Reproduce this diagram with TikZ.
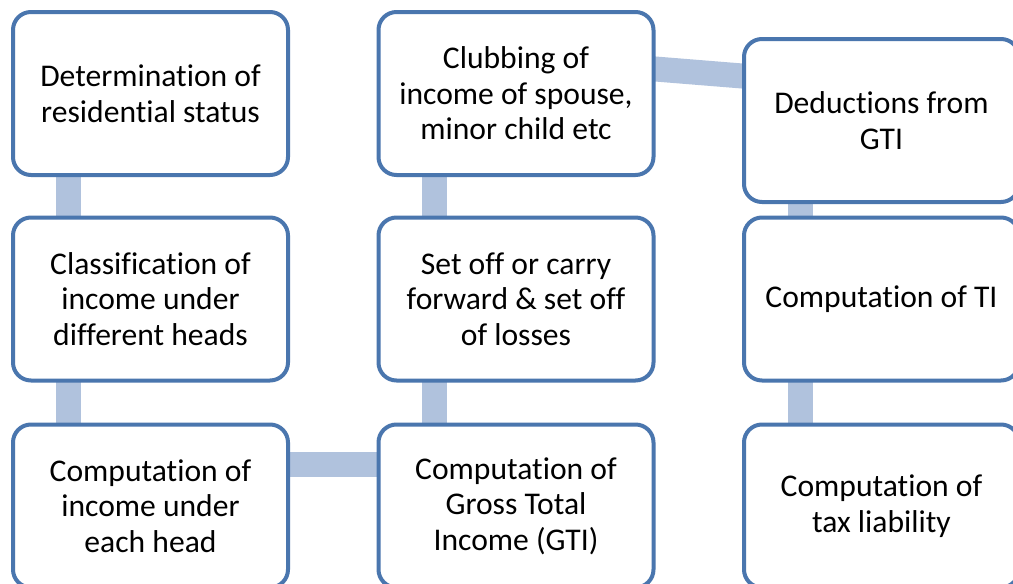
\documentclass[tikz,border=0pt]{standalone}
\usepackage{fontspec}
\setmainfont[Ligatures=NoCommon]{Carlito}
\pgfdeclarelayer{background}
\pgfdeclarelayer{canvas}
\pgfsetlayers{canvas,background,main}
\definecolor{boxline}{HTML}{4A76AE}
\definecolor{linkfill}{HTML}{B0C2DD}
\tikzset{
  stepbox/.style={draw=boxline, line width=4pt, fill=white, rounded corners=18pt,
    minimum width=275pt, minimum height=163pt, inner sep=0pt, align=center,
    text=black, font=\fontsize{31.6}{35.5}\selectfont},
  link/.style={draw=linkfill, line width=25pt, line cap=butt}
}
\begin{document}
\begin{tikzpicture}[x=1pt,y=-1pt]
\clip (0,0) rectangle (1013,584);
\begin{pgfonlayer}{canvas}
\fill[white] (0,0) rectangle (1013,584);
\end{pgfonlayer}
% first column
\node[stepbox] (r1c1) at (150.5,93.5) {Determination of\\residential status};
\node[stepbox] (r2c1) at (150.5,299) {Classification of\\income under\\different heads};
\node[stepbox] (r3c1) at (150.5,506) {Computation of\\income under\\each head};
% second column
\node[stepbox] (r3c2) at (516,506) {Computation of\\Gross Total\\Income (GTI)};
\node[stepbox] (r2c2) at (516,299) {Set off or carry\\forward \& set off\\of losses};
\node[stepbox] (r1c2) at (516,93.5) {Clubbing of\\income of spouse,\\minor child etc};
% third column
\node[stepbox] (r1c3) at (881.5,120.5) {Deductions from\\GTI};
\node[stepbox] (r2c3) at (881.5,299) {Computation of TI};
\node[stepbox] (r3c3) at (881.5,506) {Computation of\\tax liability};
% connecting bands behind the boxes
\begin{pgfonlayer}{background}
\draw[link] ([xshift=-82pt]r1c1.center) -- ([xshift=-82pt]r2c1.center);
\draw[link] ([xshift=-82pt]r2c1.center) -- ([xshift=-82pt]r3c1.center);
\draw[link] ([yshift=41.5pt]r3c1.center) -- ([yshift=41.5pt]r3c2.center);
\draw[link] ([xshift=-81.5pt]r3c2.center) -- ([xshift=-81.5pt]r2c2.center);
\draw[link] ([xshift=-81.5pt]r2c2.center) -- ([xshift=-81.5pt]r1c2.center);
\draw[link] ([xshift=-20pt,yshift=26.1pt]r1c2.east) -- ([xshift=20pt,yshift=42.9pt]r1c3.west);
\draw[link] ([xshift=-81.5pt]r1c3.center) -- ([xshift=-81.5pt]r2c3.center);
\draw[link] ([xshift=-81.5pt]r2c3.center) -- ([xshift=-81.5pt]r3c3.center);
\end{pgfonlayer}
\end{tikzpicture}
\end{document}
